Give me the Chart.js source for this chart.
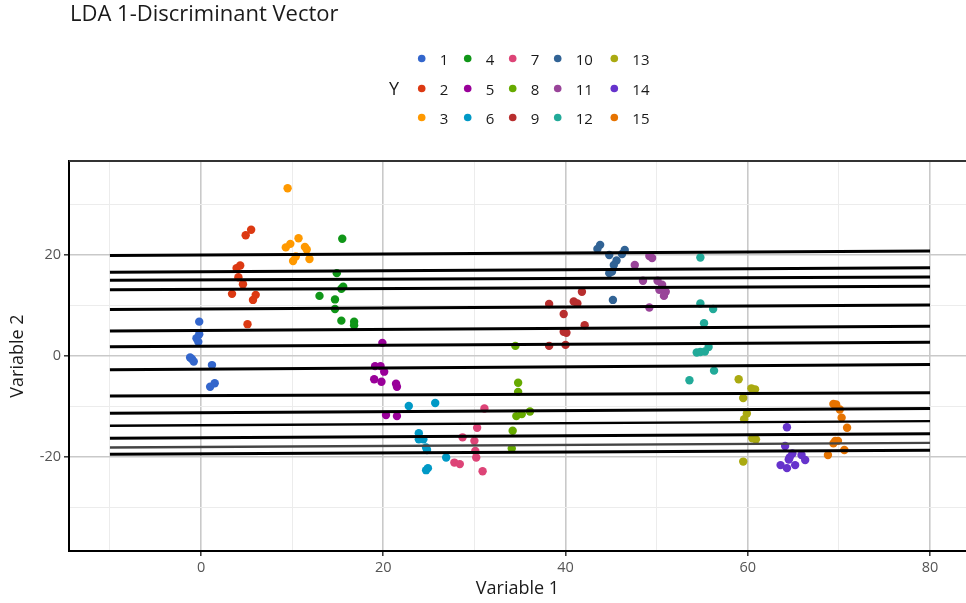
<!DOCTYPE html>
<html>
<head>
<meta charset="utf-8">
<script src="https://cdn.jsdelivr.net/npm/chart.js@4.4.1/dist/chart.umd.min.js"></script>
<style>
  body { margin: 0; background: #fff; }
  #wrap { width: 966px; height: 603px; position: relative; }
</style>
</head>
<body>
<div id="wrap"><canvas id="chart"></canvas></div>
<script>
"use strict";

const chartTitle = "LDA 1-Discriminant Vector";
const legendTitle = "Y";
const classNames = ["1", "2", "3", "4", "5", "6", "7", "8", "9", "10", "11", "12", "13", "14", "15"];
const palette = ["#3366cc", "#dc3912", "#ff9900", "#109618", "#990099", "#0099c6", "#dd4477",
  "#66aa00", "#b82e2e", "#316395", "#994499", "#22aa99", "#aaaa11", "#6633cc", "#e67300"];

// scatter values per class
const c1x = [-0.2, -0.2, -0.5, -0.3, -1.2, -1.0, -0.8, 1.2, 1.0, 1.5];
const c1y = [6.8, 4.3, 3.5, 2.8, -0.3, -0.6, -1.1, -1.8, -6.1, -5.4];
const c2x = [5.5, 4.9, 4.3, 3.9, 4.1, 4.6, 3.4, 6.0, 5.7, 5.1];
const c2y = [25.0, 23.9, 17.9, 17.4, 15.6, 14.2, 12.3, 12.1, 11.1, 6.3];
const c3x = [9.5, 10.7, 9.8, 9.3, 11.4, 11.6, 10.4, 10.1, 11.9];
const c3y = [33.2, 23.3, 22.2, 21.5, 21.6, 21.1, 19.7, 18.8, 19.2];
const c4x = [15.5, 14.9, 15.6, 15.4, 13.0, 14.7, 14.7, 15.4, 16.8, 16.8];
const c4y = [23.2, 16.4, 13.7, 13.3, 11.9, 11.2, 9.3, 7.0, 6.8, 6.1];
const c5x = [19.9, 19.1, 19.7, 20.1, 19.0, 19.8, 21.4, 21.5, 20.3, 21.5];
const c5y = [2.6, -2.0, -2.0, -3.1, -4.6, -5.1, -5.5, -6.1, -11.7, -11.9];
const c6x = [22.8, 25.7, 23.9, 23.9, 24.4, 24.7, 24.8, 26.9, 24.9, 24.7];
const c6y = [-9.9, -9.3, -15.3, -16.5, -16.5, -18.1, -18.6, -20.1, -22.2, -22.6];
const c7x = [31.1, 30.3, 28.7, 30.0, 30.1, 30.2, 27.8, 28.4, 30.9];
const c7y = [-10.4, -14.2, -16.1, -16.8, -18.8, -20.1, -21.1, -21.4, -22.8];
const c8x = [34.5, 34.8, 34.8, 36.1, 34.6, 35.2, 34.2, 34.1];
const c8y = [2.0, -5.3, -7.1, -11.0, -11.9, -11.5, -14.8, -18.3];
const c9x = [41.8, 40.9, 41.3, 38.2, 39.8, 42.1, 39.8, 40.1, 38.2, 40.0];
const c9y = [12.7, 10.8, 10.4, 10.3, 8.3, 6.1, 4.8, 4.6, 2.0, 2.2];
const c10x = [43.8, 43.5, 44.8, 46.5, 46.2, 45.6, 45.3, 45.1, 44.8, 45.2];
const c10y = [22.0, 21.2, 20.0, 21.0, 20.2, 18.9, 18.0, 16.7, 16.4, 11.1];
const c11x = [49.2, 49.5, 47.6, 48.5, 50.1, 50.6, 50.3, 51.0, 50.8, 49.2];
const c11y = [19.8, 19.4, 18.0, 14.9, 14.9, 14.1, 13.1, 12.7, 11.9, 9.6];
const c12x = [54.8, 54.8, 56.2, 55.2, 55.7, 55.3, 54.4, 54.8, 56.3, 53.6];
const c12y = [19.5, 10.4, 9.3, 6.5, 1.8, 0.9, 0.7, 0.8, -2.9, -4.8];
const c13x = [59.0, 60.4, 60.8, 59.5, 59.9, 59.6, 60.5, 60.9, 59.5];
const c13y = [-4.6, -6.4, -6.6, -8.3, -11.4, -12.5, -16.3, -16.5, -20.9];
const c14x = [64.3, 64.1, 64.9, 65.9, 64.6, 64.5, 66.3, 63.6, 65.2, 64.3];
const c14y = [-14.1, -17.8, -19.3, -19.6, -20.1, -20.5, -20.6, -21.6, -21.6, -22.2];
const c15x = [69.4, 69.7, 70.1, 70.3, 70.9, 69.6, 69.9, 69.4, 70.6, 68.8];
const c15y = [-9.5, -9.6, -10.6, -12.2, -14.2, -16.8, -16.8, -17.3, -18.6, -19.6];

// discriminant lines: y at x = -10 and at x = 80
const lineX = [-10, 80];
const lineStartY = [19.9, 16.6, 15.0, 13.1, 9.2, 4.95, 1.85, -2.7, -7.9, -11.35, -13.8, -16.3, -18.1, -19.45];
const lineEndY = [20.8, 17.45, 15.65, 13.8, 10.1, 5.9, 2.7, -1.7, -7.25, -10.4, -12.9, -15.4, -17.2, -18.65];

// axis ticks
const xTicks = [-10, 0, 10, 20, 30, 40, 50, 60, 70, 80];
const yTicks = [-30, -20, -10, 0, 10, 20, 30];
const xLabelled = [0, 20, 40, 60, 80];
const yLabelled = [-20, 0, 20];

const classX = [c1x, c2x, c3x, c4x, c5x, c6x, c7x, c8x, c9x, c10x, c11x, c12x, c13x, c14x, c15x];
const classY = [c1y, c2y, c3y, c4y, c5y, c6y, c7y, c8y, c9y, c10y, c11y, c12y, c13y, c14y, c15y];

const FONT = "'Open Sans'";
const datasets = [];

classNames.forEach((name, i) => {
  datasets.push({
    label: name,
    data: classX[i].map((x, j) => ({ x: x, y: classY[i][j] })),
    backgroundColor: palette[i],
    borderColor: palette[i],
    borderWidth: 0,
    pointRadius: 4.2,
    order: 1,
  });
});

lineStartY.forEach((y0, i) => {
  datasets.push({
    label: "line" + i,
    data: [{ x: lineX[0], y: y0 }, { x: lineX[1], y: lineEndY[i] }],
    showLine: true,
    borderColor: i === 12 ? "#444" : "#000",
    borderWidth: i === 12 || i === 10 ? 2.4 : 3,
    pointRadius: 0,
    order: 0,
  });
});

// ggplot style legend in a 3 x 5 grid plus title and top panel line
const decorPlugin = {
  id: "decor",
  afterDraw(chart) {
    const ctx = chart.ctx;
    const area = chart.chartArea;
    ctx.save();

    ctx.strokeStyle = "#333";
    ctx.lineWidth = 2;
    ctx.beginPath();
    ctx.moveTo(area.left, area.top);
    ctx.lineTo(area.right, area.top);
    ctx.stroke();

    ctx.fillStyle = "#1a1a1a";
    ctx.textAlign = "left";
    ctx.textBaseline = "alphabetic";
    ctx.font = "22px " + FONT;
    ctx.fillText(chartTitle, area.left + 1, 21);

    ctx.font = "18px " + FONT;
    ctx.fillText(legendTitle, 389, 95);

    const colX = [421.7, 467.7, 512.7, 557.7, 614.3];
    const rowY = [58.5, 88.5, 117.5];
    ctx.font = "15px " + FONT;
    classNames.forEach((name, i) => {
      const cx = colX[Math.floor(i / 3)];
      const cy = rowY[i % 3];
      ctx.fillStyle = palette[i];
      ctx.beginPath();
      ctx.arc(cx, cy, 3.8, 0, Math.PI * 2);
      ctx.fill();
      ctx.fillStyle = "#1a1a1a";
      ctx.fillText(name, cx + 18, cy + 6);
    });
    ctx.restore();
  },
};

function isMajor(c) {
  if (!c.tick) return false;
  const list = c.scale.axis === "x" ? xLabelled : yLabelled;
  return list.includes(c.tick.value);
}

new Chart(document.getElementById("chart"), {
  type: "scatter",
  data: { datasets: datasets },
  plugins: [decorPlugin],
  options: {
    responsive: true,
    maintainAspectRatio: false,
    animation: false,
    layout: { autoPadding: false, padding: { top: 161, left: 0, right: 0, bottom: 0 } },
    plugins: { legend: { display: false }, tooltip: { enabled: false } },
    scales: {
      x: {
        type: "linear",
        min: -14.49,
        max: 83.95,
        afterBuildTicks: (s) => { s.ticks = xTicks.map((v) => ({ value: v })); },
        afterFit: (s) => { s.height = 52; s.paddingLeft = 0; s.paddingRight = 0; },
        ticks: {
          autoSkip: false,
          maxRotation: 0,
          padding: 3,
          color: "#555",
          font: { family: FONT, size: 14.5 },
          callback: (v) => (xLabelled.includes(v) ? String(v) : ""),
        },
        grid: {
          color: (c) => (isMajor(c) ? "#c9c9c9" : "#ececec"),
          lineWidth: (c) => (isMajor(c) ? 1.6 : 1),
          tickColor: (c) => (isMajor(c) ? "#333" : "rgba(0,0,0,0)"),
          tickLength: 5,
          tickWidth: 1.5,
        },
        border: { color: "#000", width: 2 },
        title: {
          display: true,
          text: "Variable 1",
          color: "#1a1a1a",
          font: { family: FONT, size: 18 },
          padding: { top: 0, bottom: 3 },
        },
      },
      y: {
        type: "linear",
        min: -38.6,
        max: 38.6,
        afterBuildTicks: (s) => { s.ticks = yTicks.map((v) => ({ value: v })); },
        afterFit: (s) => { s.width = 69; },
        ticks: {
          autoSkip: false,
          padding: 3,
          color: "#555",
          font: { family: FONT, size: 14.5 },
          callback: (v) => (yLabelled.includes(v) ? String(v) : ""),
        },
        grid: {
          color: (c) => (isMajor(c) ? "#c9c9c9" : "#ececec"),
          lineWidth: (c) => (isMajor(c) ? 1.6 : 1),
          tickColor: (c) => (isMajor(c) ? "#333" : "rgba(0,0,0,0)"),
          tickLength: 5,
          tickWidth: 1.5,
        },
        border: { color: "#000", width: 2 },
        title: {
          display: true,
          text: "Variable 2",
          color: "#1a1a1a",
          font: { family: FONT, size: 18 },
          padding: { top: 7, bottom: 0 },
        },
      },
    },
  },
});
</script>
</body>
</html>
